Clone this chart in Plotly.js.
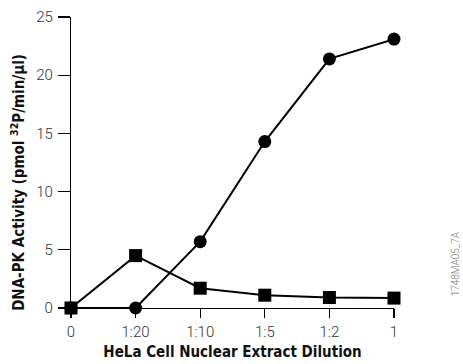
<!DOCTYPE html>
<html><head><meta charset="utf-8">
<script src="https://cdn.plot.ly/plotly-3.0.1.min.js"></script>
<style>body{margin:0;background:#fff}#c{width:463px;height:364px}</style>
</head><body><div id="c"></div>
<script>
const categories = ["0", "1:20", "1:10", "1:5", "1:2", "1"];
const circleSeries = [0, 0, 5.7, 14.3, 21.4, 23.1];
const squareSeries = [0, 4.5, 1.7, 1.1, 0.9, 0.85];
const yTicks = [0, 5, 10, 15, 20, 25];

const lineStyle = {color: "#000", width: 2};
const traces = [
  {x: categories, y: circleSeries, type: "scatter", mode: "lines+markers",
   line: lineStyle, marker: {symbol: "circle", size: 13, color: "#000"}, cliponaxis: false},
  {x: categories, y: squareSeries, type: "scatter", mode: "lines+markers",
   line: lineStyle, marker: {symbol: "square", size: 13, color: "#000"}, cliponaxis: false}
];
const tickFont = {family: "Roboto, 'Liberation Sans', sans-serif", size: 15, color: "#333", weight: 300};
const titleFont = {family: "'Liberation Sans Narrow', 'DejaVu Sans Condensed', sans-serif", size: 15, color: "#111", weight: "bold"};
const layout = {
  width: 463, height: 364,
  margin: {l: 71, r: 69, t: 17, b: 56},
  paper_bgcolor: "#fff", plot_bgcolor: "#fff",
  showlegend: false,
  xaxis: {type: "category", range: [0, 5], showgrid: false, zeroline: false,
    showline: true, linecolor: "#000", linewidth: 1.2,
    ticks: "outside", ticklen: 9, tickcolor: "#000", tickwidth: 1.2,
    tickfont: tickFont, ticklabelstandoff: 1,
    title: {text: "HeLa Cell Nuclear Extract Dilution", font: titleFont, standoff: 6}},
  yaxis: {range: [0, 25], showgrid: false, zeroline: false,
    showline: true, linecolor: "#000", linewidth: 1.2,
    tickmode: "array", tickvals: yTicks,
    ticks: "outside", ticklen: 12, tickcolor: "#000", tickwidth: 1.2,
    tickfont: tickFont, ticklabelstandoff: 2},
  annotations: [
    {text: "DNA-PK Activity (pmol <sup>32</sup>P/min/µl)", textangle: -90,
     xref: "paper", yref: "paper", x: 0, xshift: -53, y: 0.43, xanchor: "center", yanchor: "middle",
     showarrow: false, font: titleFont},
    {text: "1748MA05_7A", textangle: -90, xref: "paper", yref: "paper",
     x: 1, xshift: 61, y: 0.15, xanchor: "center", yanchor: "middle",
     showarrow: false, font: {family: "Roboto, sans-serif", size: 10, color: "#777", weight: 300}}
  ]
};
Plotly.newPlot("c", traces, layout, {staticPlot: true, displayModeBar: false});
</script></body></html>
